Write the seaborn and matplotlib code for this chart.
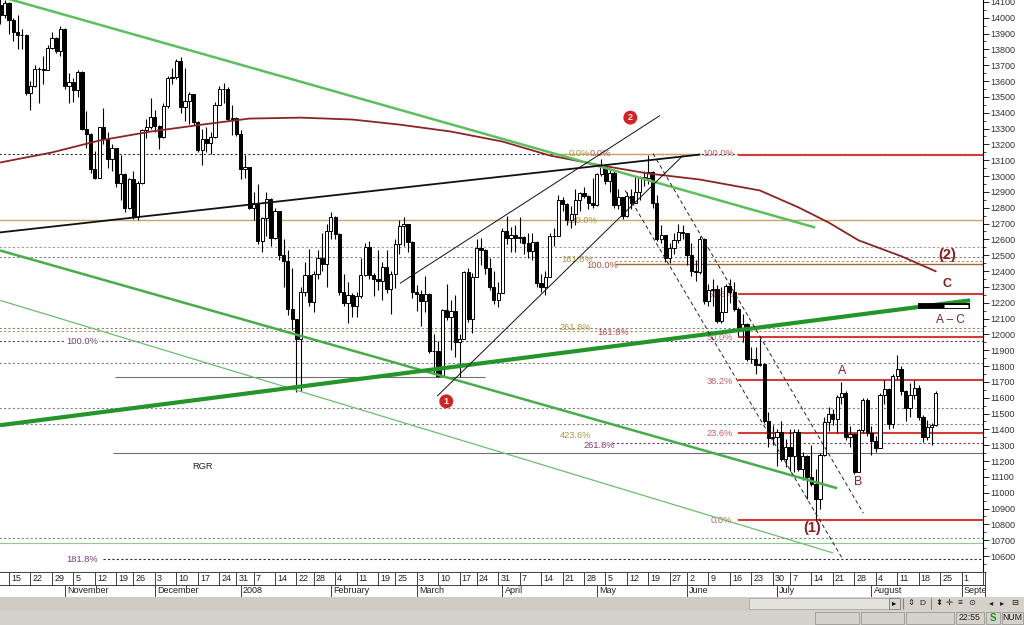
import numpy as np
import matplotlib
matplotlib.use("Agg")
import matplotlib.pyplot as plt
from matplotlib.ticker import MultipleLocator
import seaborn as sns

# daily bars, Oct 11 2007 .. Aug 22 2008 ; bar 0 = Oct 15 2007
first_bar = -2
opens = [14078, 14015, 14093, 13985, 13913, 13892, 13888, 13522, 13567, 13676,
         13675, 13671, 13807, 13870, 13792, 13930, 13568, 13595, 13543, 13660,
         13300, 13266, 13043, 12987, 13307, 13231, 13110, 13176, 12958, 13010,
         12799, 12981, 12743, 12958, 13289, 13311, 13372, 13314, 13249, 13445,
         13620, 13625, 13727, 13433, 13474, 13518, 13339, 13167, 13232, 13207,
         13245, 13451, 13550, 13551, 13359, 13366, 13265, 13044, 13057, 12800,
         12827, 12589, 12735, 12853, 12606, 12778, 12501, 12466, 12159, 12099,
         11971, 12270, 12378, 12207, 12383, 12480, 12442, 12650, 12743, 12635,
         12265, 12200, 12247, 12182, 12240, 12373, 12552, 12376, 12348, 12337,
         12427, 12284, 12381, 12570, 12684, 12694, 12582, 12266, 12258, 12213,
         12254, 11893, 11894, 11740, 12156, 12111, 12146, 11951, 11972, 12392,
         12099, 12361, 12548, 12533, 12422, 12302, 12216, 12263, 12654, 12608,
         12627, 12609, 12612, 12577, 12527, 12582, 12326, 12302, 12362, 12619,
         12620, 12849, 12825, 12720, 12763, 12849, 12891, 12871, 12832, 12820,
         13010, 13058, 12969, 13021, 12814, 12867, 12746, 12876, 12832, 12899,
         12993, 12986, 13028, 12828, 12601, 12625, 12480, 12548, 12594, 12647,
         12638, 12503, 12402, 12391, 12604, 12209, 12280, 12289, 12084, 12141,
         12307, 12269, 12160, 12029, 12063, 11842, 11842, 11807, 11811, 11453,
         11346, 11350, 11382, 11215, 11288, 11231, 11384, 11147, 11229, 11100,
         11055, 10962, 11239, 11446, 11496, 11467, 11602, 11632, 11349, 11370,
         11131, 11397, 11583, 11378, 11326, 11284, 11615, 11656, 11432, 11734,
         11782, 11642, 11532, 11616, 11659, 11479, 11349, 11417, 11430]
highs = [14198, 14110, 14100, 14000, 14020, 13930, 13900, 13600, 13700, 13690,
         13760, 13830, 13910, 13880, 13950, 13935, 13650, 13620, 13670, 13665,
         13410, 13270, 13160, 13310, 13430, 13280, 13200, 13180, 13130, 13020,
         12990, 13030, 12970, 13300, 13360, 13490, 13420, 13320, 13460, 13630,
         13680, 13740, 13750, 13680, 13530, 13520, 13350, 13300, 13310, 13280,
         13470, 13570, 13590, 13560, 13450, 13370, 13290, 13130, 13060, 12900,
         12950, 12740, 12900, 12860, 12800, 12780, 12600, 12530, 12420, 12100,
         12300, 12460, 12540, 12400, 12530, 12640, 12700, 12770, 12750, 12640,
         12380, 12330, 12260, 12270, 12480, 12580, 12590, 12390, 12530, 12460,
         12530, 12400, 12600, 12720, 12740, 12700, 12590, 12310, 12280, 12370,
         12260, 12000, 11960, 12160, 12320, 12220, 12250, 12000, 12400, 12420,
         12390, 12600, 12610, 12540, 12480, 12400, 12330, 12670, 12750, 12680,
         12690, 12740, 12620, 12640, 12640, 12590, 12380, 12400, 12640, 12670,
         12880, 12870, 12830, 12810, 12920, 12900, 12930, 12880, 12990, 13020,
         13110, 13060, 13040, 13030, 12920, 12870, 12900, 12920, 13000, 13000,
         13030, 13136, 13030, 12880, 12690, 12630, 12580, 12640, 12700, 12690,
         12640, 12580, 12470, 12620, 12610, 12320, 12350, 12310, 12300, 12320,
         12350, 12330, 12170, 12130, 12070, 11920, 11920, 11980, 11820, 11510,
         11430, 11400, 11450, 11340, 11400, 11400, 11400, 11260, 11240, 11300,
         11150, 11250, 11480, 11540, 11530, 11620, 11700, 11640, 11420, 11380,
         11400, 11600, 11600, 11420, 11360, 11630, 11710, 11660, 11750, 11867,
         11800, 11650, 11690, 11710, 11680, 11490, 11460, 11440, 11640]
lows = [13960, 14000, 13900, 13850, 13800, 13800, 13510, 13420, 13560, 13460,
        13580, 13670, 13800, 13780, 13760, 13550, 13460, 13470, 13500, 13290,
        13180, 13020, 12980, 12985, 13200, 13050, 13030, 12930, 12850, 12770,
        12790, 12730, 12720, 12950, 13240, 13300, 13280, 13170, 13240, 13430,
        13580, 13610, 13400, 13350, 13330, 13320, 13150, 13070, 13150, 13140,
        13240, 13450, 13460, 13350, 13260, 13250, 12980, 12990, 12790, 12720,
        12570, 12520, 12620, 12560, 12600, 12470, 12300, 12120, 12030, 11634,
        11644, 12240, 12180, 12140, 12350, 12400, 12300, 12600, 12600, 12250,
        12180, 12070, 12110, 12110, 12230, 12370, 12350, 12240, 12280, 12220,
        12260, 12130, 12290, 12510, 12560, 12520, 12230, 12150, 12050, 12140,
        11880, 11750, 11731, 11740, 12090, 11900, 11860, 11731, 11970, 12080,
        12010, 12360, 12440, 12380, 12280, 12190, 12170, 12260, 12570, 12520,
        12520, 12580, 12510, 12480, 12470, 12300, 12270, 12250, 12360, 12560,
        12620, 12780, 12690, 12670, 12690, 12780, 12860, 12790, 12800, 12810,
        13000, 12950, 12900, 12800, 12790, 12730, 12740, 12790, 12830, 12850,
        12940, 12950, 12800, 12590, 12580, 12460, 12450, 12510, 12580, 12600,
        12440, 12370, 12340, 12380, 12190, 12180, 12180, 12070, 12070, 12140,
        12200, 12150, 11990, 11950, 11830, 11820, 11750, 11800, 11440, 11290,
        11300, 11170, 11200, 11160, 11140, 11130, 11140, 11080, 10960, 11040,
        10827, 10900, 11230, 11390, 11430, 11380, 11560, 11330, 11290, 11120,
        11130, 11380, 11360, 11240, 11260, 11280, 11560, 11400, 11410, 11720,
        11620, 11450, 11480, 11590, 11460, 11320, 11330, 11300, 11420]
closes = [14015, 14093, 13985, 13913, 13892, 13888, 13522, 13567, 13676, 13675,
          13671, 13807, 13870, 13792, 13930, 13568, 13595, 13543, 13660, 13300,
          13266, 13043, 12987, 13307, 13231, 13110, 13176, 12958, 13010, 12799,
          12981, 12743, 12958, 13289, 13311, 13372, 13314, 13249, 13445, 13620,
          13625, 13727, 13433, 13474, 13518, 13339, 13167, 13232, 13207, 13245,
          13451, 13550, 13551, 13359, 13366, 13265, 13044, 13057, 12800, 12827,
          12589, 12735, 12853, 12606, 12778, 12501, 12466, 12159, 12099, 11971,
          12270, 12378, 12207, 12383, 12480, 12442, 12650, 12743, 12635, 12265,
          12200, 12247, 12182, 12240, 12373, 12552, 12376, 12348, 12337, 12427,
          12284, 12381, 12570, 12684, 12694, 12582, 12266, 12258, 12213, 12254,
          11893, 11894, 11740, 12156, 12111, 12146, 11951, 11972, 12392, 12099,
          12361, 12548, 12533, 12422, 12302, 12216, 12263, 12654, 12608, 12627,
          12609, 12612, 12577, 12527, 12582, 12326, 12302, 12362, 12619, 12620,
          12849, 12825, 12720, 12763, 12849, 12891, 12871, 12832, 12820, 13010,
          13058, 12969, 13021, 12814, 12867, 12746, 12876, 12832, 12899, 12993,
          12986, 13028, 12828, 12601, 12625, 12480, 12548, 12594, 12647, 12638,
          12503, 12402, 12391, 12604, 12209, 12280, 12289, 12084, 12141, 12307,
          12269, 12160, 12029, 12063, 11842, 11842, 11807, 11811, 11453, 11346,
          11350, 11382, 11215, 11288, 11231, 11384, 11147, 11229, 11100, 11055,
          10962, 11239, 11446, 11496, 11467, 11602, 11632, 11349, 11370, 11131,
          11397, 11583, 11378, 11326, 11284, 11615, 11656, 11432, 11734, 11782,
          11642, 11532, 11616, 11659, 11479, 11349, 11417, 11430, 11628]

# long moving average (bar, price)
ma_bars = [-2, 10, 21, 33, 45, 56, 68, 80, 91, 103, 115, 126, 138, 149, 161, 175, 184, 191, 198, 208, 216]
ma_vals = [13086, 13149, 13224, 13281, 13325, 13363, 13369, 13357, 13325, 13281, 13218, 13130, 13067,
           13016, 12978, 12909, 12802, 12707, 12594, 12493, 12398]

# x axis labels (weeks and months, as bar numbers)
week_labels = ["15", "22", "29", "5", "12", "19", "26", "3", "10", "17", "24", "31", "7", "14", "22", "28",
               "4", "11", "19", "25", "3", "10", "17", "24", "31", "7", "14", "21", "28", "5", "12", "19",
               "27", "2", "9", "16", "23", "30", "7", "14", "21", "28", "4", "11", "18", "25", "1", "8"]
week_bars = [0, 5, 10, 15, 20, 25, 29, 34, 39, 44, 49, 53, 57, 62, 67, 71, 76, 81, 86, 90, 95, 100, 105,
             109, 114, 119, 124, 129, 134, 139, 144, 149, 154, 158, 163, 168, 173, 178, 182, 187, 192,
             197, 202, 207, 212, 217, 222, 227]
month_labels = ["November", "December", "2008", "February", "March", "April", "May", "June", "July",
                "August", "September"]
month_bars = [13, 34, 54, 75, 95, 115, 137, 158, 179, 201, 222]

# drawn trend lines: (bar0, price0, bar1, price1)
top_green = (-2.1, 14134, 187.9, 12675)
mid_green = (-2.1, 12530, 193.0, 11028)
low_green = (-2.1, 12215, 192.1, 10619)
thick_green = (-2.1, 11426, 224.0, 12215)
black_trend = (-2.1, 12644, 161.1, 13136)
chan_upper = (91.1, 12322, 151.7, 13382)
chan_lower = (99.8, 11610, 157.1, 13130)
down_left = (143.6, 12909, 194.4, 10576)
down_right = (150.1, 13142, 199.1, 10871)

# horizontal levels: price, first bar, last bar, kind
levels = [
    (13140, -3, 228, "kdash"), (13140, 128.4, 161.1, "tan"), (13136, 169.9, 228, "red"),
    (12720, -3, 228, "tan"), (12549, -3, 228, "pdash"), (12486, -3, 228, "gdash"),
    (12461, 141.3, 228, "tdash"), (12442, 141.3, 228, "brown"), (12253, 169.9, 228, "red"),
    (12038, -3, 228, "gdash"), (12019, -3, 228, "tdash"), (11982, 169.9, 228, "red"),
    (11956, -3, 228, "vdash"), (11817, -3, 228, "gdash"), (11729, 24.7, 111.0, "gray"),
    (11710, 169.9, 228, "red"), (11534, -3, 228, "gdash"), (11433, -3, 228, "gdash"),
    (11376, 169.9, 228, "red"), (11313, 140.6, 228, "vdash"), (11250, 24.2, 228, "gray"),
    (10827, 169.9, 228, "red"), (10714, -3, 228, "gdash"), (10682, -3, 228, "lgreen"),
    (10581, 21.9, 228, "kdash"),
]
level_style = {
    "red": dict(color="#d43c3c", lw=1.5, ls="-"),
    "tan": dict(color="#c9a46a", lw=1.0, ls="-"),
    "brown": dict(color="#9a6a3a", lw=1.0, ls="-"),
    "gray": dict(color="#707070", lw=0.8, ls="-"),
    "lgreen": dict(color="#8ccc8c", lw=0.8, ls="-"),
    "kdash": dict(color="#303030", lw=0.8, ls=(0, (2, 2))),
    "gdash": dict(color="#808080", lw=0.8, ls=(0, (2, 2))),
    "pdash": dict(color="#b89090", lw=0.8, ls=(0, (2, 2))),
    "tdash": dict(color="#b89060", lw=0.8, ls=(0, (2, 2))),
    "vdash": dict(color="#6a3a7a", lw=0.8, ls=(0, (2, 2))),
}

# level captions: bar, price, text, colour
captions = [
    (130.5, 13140, "0.0%", "#a89a40"), (135.4, 13140, "0.0%", "#b06050"),
    (161.5, 13140, "100.0%", "#c86060"), (129.6, 12720, "100.0%", "#a89a40"),
    (128.6, 12470, "161.8%", "#a89a40"), (134.6, 12436, "100.0%", "#b05040"),
    (162.7, 12253, "61.8%", "#c86060"), (128.4, 12045, "261.8%", "#a89a40"),
    (137.1, 12013, "161.8%", "#c05050"), (162.5, 11982, "50.0%", "#c86060"),
    (162.5, 11704, "38.2%", "#c86060"), (128.4, 11363, "423.6%", "#a89a40"),
    (162.5, 11376, "23.6%", "#c86060"), (133.8, 11300, "261.8%", "#7a3a7a"),
    (163.6, 10827, "0.0%", "#c86060"), (13.3, 10581, "181.8%", "#7a3a7a"),
]
waves = [(194.2, 11767, "A", 9, "normal"), (198.0, 11067, "B", 9, "normal"),
         (187.2, 10777, "(1)", 10.5, "bold"), (218.6, 12499, "(2)", 10.5, "bold"),
         (218.6, 12316, "C", 9, "bold"), (219.3, 12089, "A – C", 8.5, "normal")]
circles = [(144.8, 13369, "2"), (101.9, 11577, "1")]

sns.set_style("white")
plt.rcParams["font.family"] = ["Liberation Sans", "DejaVu Sans"]

W, H = 1024, 625
fig = plt.figure(figsize=(W / 100, H / 100), dpi=100)
fig.patch.set_facecolor("white")


def px_axes(x0, y0, x1, y1):
    return fig.add_axes([x0 / W, 1 - y1 / H, (x1 - x0) / W, (y1 - y0) / H])


ax = px_axes(0, 0, 983, 572)
ax.set_xlim(-2.1, 227.0)
ax.set_ylim(10499, 14112)
ax.set_facecolor("white")

# levels
for price, b0, b1, kind in levels:
    ax.hlines(price, b0, b1, zorder=1, **level_style[kind])

for b, p, txt, col in captions:
    ax.text(b, p, txt, fontsize=6.7, color=col, ha="left", va="center", zorder=1.5)
ax.text(13.3, 11956, "100.0%", fontsize=6.7, color="#7a3a7a", ha="left", va="center", zorder=1.5,
        bbox=dict(facecolor="white", edgecolor="none", pad=0.5))
ax.text(42.7, 11168, "RGR", fontsize=6.7, color="#222222", ha="left", va="center", zorder=1.5)

# candles
bars = np.arange(first_bar, first_bar + len(closes))
o = np.array(opens)
c = np.array(closes)
ax.vlines(bars, lows, highs, color="black", lw=0.8, zorder=2.5)
body_col = np.where(c >= o, "white", "black")
ax.bar(bars, np.abs(c - o), bottom=np.minimum(o, c), width=0.74, color=body_col,
       edgecolor="black", linewidth=0.7, zorder=3)

# moving average
sns.lineplot(x=ma_bars, y=ma_vals, ax=ax, color="#8c2424", lw=1.3, zorder=3.5)


def seg(line, **kw):
    ax.plot([line[0], line[2]], [line[1], line[3]], zorder=4, solid_capstyle="butt", **kw)


seg(top_green, color="#5cbf5c", lw=1.8)
seg(mid_green, color="#48ad48", lw=1.8)
seg(low_green, color="#6cbf6c", lw=0.9)
seg(thick_green, color="#23962a", lw=3.0)
seg(black_trend, color="#111111", lw=1.3)
seg(chan_upper, color="#111111", lw=0.7)
seg(chan_lower, color="#111111", lw=0.7)
seg(down_left, color="#222222", lw=0.7, ls=(0, (4, 3)))
seg(down_right, color="#222222", lw=0.7, ls=(0, (4, 3)))

# A - C marker bar
ax.plot([211.9, 224.0], [12177, 12177], color="black", lw=4.2, solid_capstyle="butt", zorder=4.5)
ax.plot([217.8, 223.6], [12177, 12177], color="white", lw=2.2, solid_capstyle="butt", zorder=4.6)

for b, p, txt, fs, fw in waves:
    ax.text(b, p, txt, fontsize=fs, fontweight=fw, color="#8b1e1e", ha="center", va="center", zorder=5)
for b, p, txt in circles:
    ax.scatter([b], [p], s=100, color="#d42020", edgecolor="none", zorder=5)
    ax.text(b, p, txt, fontsize=6.5, fontweight="bold", color="white", ha="center", va="center", zorder=6)

# right price axis
ax.set_xticks([])
ax.yaxis.tick_right()
ax.set_yticks(range(10600, 14101, 100))
ax.yaxis.set_minor_locator(MultipleLocator(50))
ax.tick_params(axis="y", which="major", length=4, width=0.6, labelsize=6.5, pad=1.5,
               labelcolor="#333333", color="black", direction="out")
ax.tick_params(axis="y", which="minor", length=2.2, width=0.5, color="black", direction="out")
for s in ["left", "top"]:
    ax.spines[s].set_visible(False)
ax.spines["right"].set_color("black")
ax.spines["right"].set_linewidth(0.8)
ax.spines["bottom"].set_color("#404040")
ax.spines["bottom"].set_linewidth(0.8)

# date rows
dax = px_axes(0, 572, 985, 597)
dax.set_xlim(-2.1, 227.0 + 2 / 4.29)
dax.set_ylim(0, 2)
dax.set_xticks([])
dax.set_yticks([])
for s in dax.spines.values():
    s.set_color("#404040")
    s.set_linewidth(0.7)
dax.spines["left"].set_visible(False)
dax.axhline(1, color="#404040", lw=0.7)
dax.vlines(week_bars, 1, 2, color="#404040", lw=0.7)
for b, t in zip(week_bars, week_labels):
    dax.text(b + 0.5, 1.5, t, fontsize=6.5, color="#222222", ha="left", va="center", clip_on=True)
dax.vlines(month_bars, 0, 1, color="#404040", lw=0.7)
for b, t in zip(month_bars, month_labels):
    dax.text(b + 0.5, 0.5, t, fontsize=6.5, color="#222222", ha="left", va="center", clip_on=True)

# window status/tool bar
tax = px_axes(0, 597, 1024, 625)
tax.set_xlim(0, 1024)
tax.set_ylim(28, 0)
tax.axis("off")
tax.add_patch(plt.Rectangle((0, 0), 1024, 28, color="#d5d2cc", zorder=0))
tax.add_patch(plt.Rectangle((0, 0), 749, 13, color="#cfccc6", zorder=0.5))
tax.add_patch(plt.Rectangle((749, 1), 140, 11, facecolor="#e4e2dd", edgecolor="#a8a6a0", lw=0.6))
tax.add_patch(plt.Rectangle((889, 1), 11, 11, facecolor="#d9d6d0", edgecolor="#808080", lw=0.6))
tax.text(894.5, 6.5, "▸", fontsize=6, ha="center", va="center", color="black")
tax.vlines([903, 931], 1, 12, color="#808080", lw=0.8)
for xx, g in [(911, "⇕"), (922, "D"), (939, "⬍"), (949, "✛"), (960, "≡"), (972, "⊙"),
              (991, "◂"), (1002, "▸"), (1015, "⊟")]:
    tax.text(xx, 6.5, g, fontsize=6, ha="center", va="center", color="#202020")
for x0, x1 in [(814, 860), (860, 905), (905, 955), (955, 985), (985, 1001), (1001, 1024)]:
    tax.add_patch(plt.Rectangle((x0 + 1, 15), x1 - x0 - 2, 12, facecolor="#d5d2cc",
                                edgecolor="#9a9892", lw=0.6))
tax.text(970, 21, "22:55", fontsize=6.3, ha="center", va="center", color="#202020")
tax.text(993, 21, "S", fontsize=7, fontweight="bold", ha="center", va="center", color="#1a9a2a")
tax.text(1012, 21, "NUM", fontsize=6.3, ha="center", va="center", color="#202020")

fig.savefig("out.png", dpi=100)
